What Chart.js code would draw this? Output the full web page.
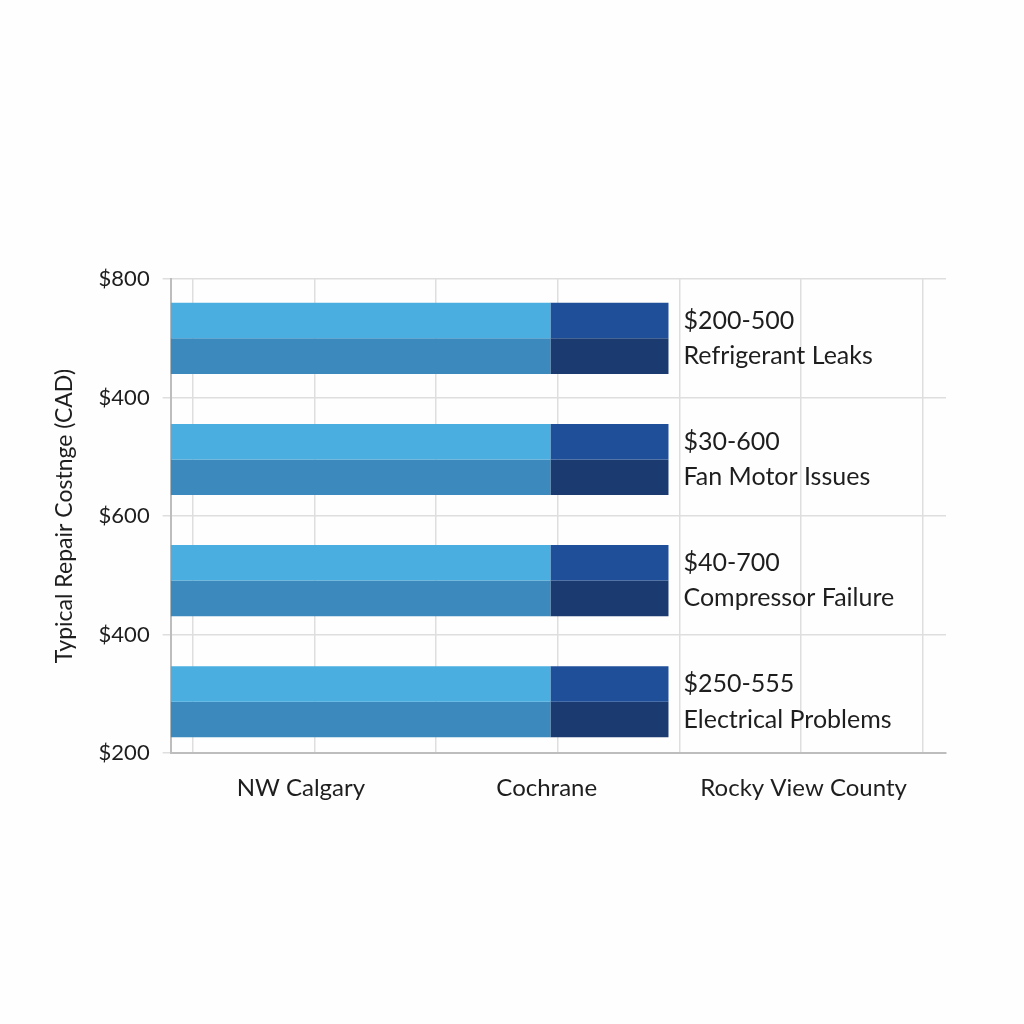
<!DOCTYPE html>
<html>
<head>
<meta charset="utf-8">
<script src="https://cdn.jsdelivr.net/npm/chart.js@4.4.1/dist/chart.umd.min.js"></script>
<style>
  html, body { margin: 0; padding: 0; background: #fefefe; }
  #wrap { width: 1024px; height: 1024px; }
</style>
</head>
<body>
<div id="wrap"><canvas id="repairChart"></canvas></div>
<script>
const rows = ['Refrigerant Leaks', 'Fan Motor Issues', 'Compressor Failure', 'Electrical Problems'];
const ranges = ['$200-500', '$30-600', '$40-700', '$250-555'];
const baseCost = [312, 312, 312, 312];
const extraCost = [97, 97, 97, 97];
const yTickLabels = ['$800', '$400', '$600', '$400', '$200'];
const regions = ['NW Calgary', 'Cochrane', 'Rocky View County'];

const points = values => values.map((v, i) => ({ x: v, y: i }));

// writes range + issue name to the right of each bar
const barLabels = {
    id: 'barLabels',
    afterDatasetsDraw(chart) {
        const ctx = chart.ctx;
        const topBars = chart.getDatasetMeta(1).data;
        const bottomBars = chart.getDatasetMeta(3).data;
        ctx.save();
        ctx.font = '25px Lato';
        ctx.fillStyle = '#1e1e1e';
        ctx.textBaseline = 'middle';
        rows.forEach((row, i) => {
            ctx.fillText(ranges[i], topBars[i].x + 15, topBars[i].y);
            ctx.fillText(row, bottomBars[i].x + 15, bottomBars[i].y);
        });
        ctx.restore();
    }
};

const xMax = 637;
const gridStart = 18;
const gridStep = 100;

new Chart(document.getElementById('repairChart').getContext('2d'), {
    type: 'bar',
    data: {
        datasets: [
            { label: 'Base', data: points(baseCost), stack: 'top', backgroundColor: '#4aafe0' },
            { label: 'Extra', data: points(extraCost), stack: 'top', backgroundColor: '#1f4f99' },
            { label: 'Base', data: points(baseCost), stack: 'bottom', backgroundColor: '#3c89bd' },
            { label: 'Extra', data: points(extraCost), stack: 'bottom', backgroundColor: '#1b3b70' }
        ]
    },
    options: {
        indexAxis: 'y',
        responsive: true,
        maintainAspectRatio: false,
        animation: false,
        categoryPercentage: 0.6,
        barPercentage: 1,
        layout: { padding: { top: 279, left: 51, right: 78, bottom: 208 } },
        plugins: {
            legend: { display: false },
            tooltip: { enabled: false }
        },
        scales: {
            y: {
                type: 'linear',
                reverse: true,
                offset: false,
                min: -0.49,
                max: 3.425,
                afterBuildTicks: scale => {
                    const n = yTickLabels.length - 1;
                    scale.ticks = yTickLabels.map((_, i) => ({ value: scale.min + i * (scale.max - scale.min) / n }));
                },
                ticks: {
                    callback: (v, i) => yTickLabels[i],
                    font: { family: 'Lato', size: 22 },
                    color: '#1e1e1e',
                    padding: 13
                },
                grid: { offset: false, color: '#dedede', lineWidth: 1.5, tickLength: 8 },
                border: { color: '#bdbdbd', width: 2 },
                title: {
                    display: true,
                    text: 'Typical Repair Costnge (CAD)',
                    font: { family: 'Lato', size: 23 },
                    color: '#1e1e1e',
                    padding: { top: 0, bottom: 7 }
                }
            },
            x: {
                type: 'linear',
                stacked: true,
                min: 0,
                max: xMax,
                afterBuildTicks: scale => {
                    const ticks = [];
                    for (let v = gridStart; v < xMax; v += gridStep) ticks.push({ value: v });
                    scale.ticks = ticks;
                },
                ticks: { display: false },
                grid: { color: '#dedede', lineWidth: 1.5, drawTicks: false },
                border: { color: '#bdbdbd', width: 2 }
            },
            xRegion: {
                type: 'linear',
                position: 'bottom',
                min: 0,
                max: xMax,
                afterBuildTicks: scale => {
                    scale.ticks = [107, 309, 520].map(v => ({ value: v }));
                },
                ticks: {
                    callback: (v, i) => regions[i],
                    font: { family: 'Lato', size: 24 },
                    color: '#1e1e1e',
                    padding: 13,
                    maxRotation: 0,
                    autoSkip: false
                },
                grid: { display: false },
                border: { display: false }
            }
        }
    },
    plugins: [barLabels]
});
</script>
</body>
</html>
